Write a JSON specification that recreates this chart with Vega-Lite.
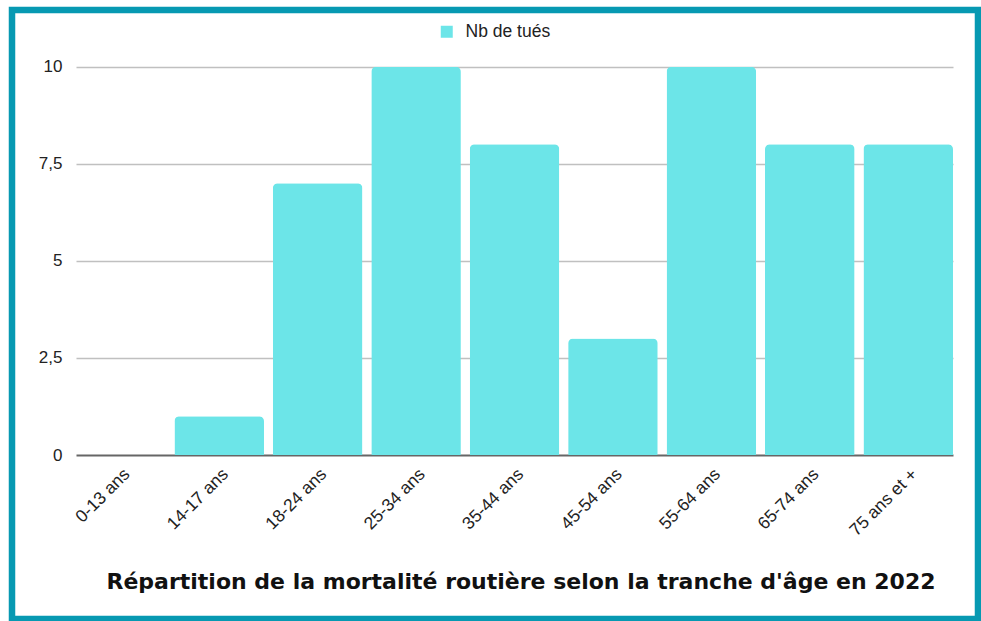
{
  "$schema": "https://vega.github.io/schema/vega-lite/v6.json",
  "width": 966,
  "height": 609,
  "autosize": {"type": "none"},
  "padding": {"left": 12, "top": 10, "right": 3, "bottom": 2},
  "background": "white",
  "data": {
    "values": [
      {"tranche": "0-13 ans", "nb": 0, "serie": "Nb de tués"},
      {"tranche": "14-17 ans", "nb": 1, "serie": "Nb de tués"},
      {"tranche": "18-24 ans", "nb": 7, "serie": "Nb de tués"},
      {"tranche": "25-34 ans", "nb": 10, "serie": "Nb de tués"},
      {"tranche": "35-44 ans", "nb": 8, "serie": "Nb de tués"},
      {"tranche": "45-54 ans", "nb": 3, "serie": "Nb de tués"},
      {"tranche": "55-64 ans", "nb": 10, "serie": "Nb de tués"},
      {"tranche": "65-74 ans", "nb": 8, "serie": "Nb de tués"},
      {"tranche": "75 ans et +", "nb": 8, "serie": "Nb de tués"}
    ]
  },
  "title": {
    "text": "Répartition de la mortalité routière selon la tranche d'âge en 2022",
    "orient": "bottom",
    "anchor": "middle",
    "frame": "group",
    "offset": -30,
    "baseline": "alphabetic",
    "dx": 26,
    "font": "DejaVu Sans",
    "fontSize": 22,
    "fontWeight": "bold",
    "color": "#111111"
  },
  "mark": {"type": "bar", "cornerRadiusTopLeft": 5, "cornerRadiusTopRight": 5},
  "encoding": {
    "x": {
      "field": "tranche",
      "type": "nominal",
      "sort": null,
      "scale": {"range": [64, 941], "paddingInner": 0.09, "paddingOuter": 0},
      "axis": {
        "title": null,
        "labelAngle": -45,
        "offset": -164,
        "domain": false,
        "ticks": false,
        "grid": false,
        "labelPadding": 10,
        "labelFontSize": 17.5,
        "labelFont": "Liberation Sans",
        "labelColor": "#222222"
      }
    },
    "y": {
      "field": "nb",
      "type": "quantitative",
      "scale": {"domain": [0, 10], "range": [445, 56.7], "nice": false},
      "axis": {
        "title": null,
        "values": [0, 2.5, 5, 7.5, 10],
        "offset": -64,
        "labelPadding": 14,
        "domain": false,
        "ticks": false,
        "grid": true,
        "gridColor": {"condition": {"test": "datum.value === 0", "value": "#666666"}, "value": "#c0c0c0"},
        "gridWidth": {"condition": {"test": "datum.value === 0", "value": 2}, "value": 1.5},
        "labelExpr": "replace(format(datum.value, '~g'), '.', ',')",
        "labelFontSize": 17,
        "labelFont": "Liberation Sans",
        "labelColor": "#222222"
      }
    },
    "color": {
      "field": "serie",
      "type": "nominal",
      "scale": {"range": ["#6ce5e8"]},
      "legend": {
        "title": null,
        "orient": "none",
        "legendX": 426,
        "legendY": 13,
        "symbolType": "square",
        "symbolSize": 144,
        "symbolStrokeWidth": 0,
        "labelFontSize": 17.5,
        "labelFont": "Liberation Sans",
        "labelColor": "#222222",
        "labelOffset": 10,
        "padding": 0
      }
    }
  },
  "config": {
    "view": {"stroke": "#0799b2", "strokeWidth": 6.5, "fill": "white"}
  }
}
